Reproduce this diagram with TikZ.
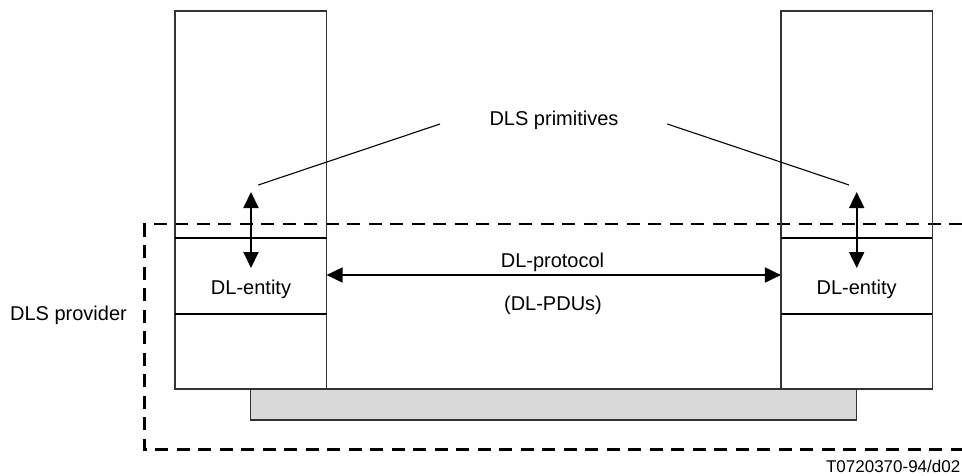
\documentclass[tikz,border=0pt]{standalone}
\usepackage{fontspec}
\setmainfont{Liberation Sans}
\usetikzlibrary{arrows.meta}
\begin{document}
\begin{tikzpicture}[x=1pt,y=-1pt,
  colbox/.style={draw=black!80, line width=1.4pt, minimum width=151.5pt,
    minimum height=378pt, inner sep=0pt, outer sep=0pt},
  barbox/.style={draw=black!80, line width=1.4pt, fill=black!15,
    minimum width=606.4pt, minimum height=31pt, inner sep=0pt, outer sep=0pt},
  divider/.style={line width=2pt, black},
  provbox/.style={line width=2.6pt, dash pattern=on 13pt off 8.5pt},
  lbl/.style={font=\fontsize{20}{24}\selectfont, anchor=base, inner sep=0pt},
  sig/.style={line width=2pt,
    {Triangle[length=16pt,width=15pt]}-{Triangle[length=16pt,width=15pt]}},
  leader/.style={line width=1.1pt}]
\useasboundingbox (0,0) rectangle (962,475);

% DLS provider boundary (open towards the right)
\draw[provbox] (962,224) -- (144.7,224) -- (144.7,449.7) -- (962,449.7);

% shared medium
\node[barbox] (bar) at (553.5,404.5) {};

% the two systems
\node[colbox] (colL) at (250.85,200) {};
\node[colbox] (colR) at (856.65,200) {};

% DL-entity layer boundaries
\foreach \c in {colL,colR}{
  \draw[divider] (\c.west |- 0,237.7) -- (\c.east |- 0,237.7);
  \draw[divider] (\c.west |- 0,313.7) -- (\c.east |- 0,313.7);
}

% labels
\node[lbl] (entL) at (251,294) {DL-entity};
\node[lbl] (entR) at (856.6,294) {DL-entity};
\node[lbl] (prims) at (554,125) {DLS primitives};
\node[lbl] (proto) at (552.5,267) {DL-protocol};
\node[lbl] (pdus) at (553,310) {(DL-PDUs)};
\node[lbl] (provider) at (68.5,320.7) {DLS provider};
\node[font=\fontsize{17}{20}\selectfont, anchor=base east, inner sep=0pt]
  (ref) at (960.5,472) {T0720370-94/d02};

% service primitives at each interface
\coordinate (upL) at (251,192);
\coordinate (dnL) at (251,268);
\coordinate (upR) at (856.7,192);
\coordinate (dnR) at (856.7,268);
\draw[sig] (upL) -- (dnL);
\draw[sig] (upR) -- (dnR);

% peer protocol between the entities
\draw[sig] (colL.east |- 0,275) -- (colR.west |- 0,275);

% leader lines from the primitives label
\coordinate (lpL) at (440,124);
\coordinate (lpR) at (667.3,124);
\coordinate (ltL) at (258.3,185);
\coordinate (ltR) at (849,185);
\draw[leader] (lpL) -- (ltL);
\draw[leader] (lpR) -- (ltR);
\end{tikzpicture}
\end{document}
